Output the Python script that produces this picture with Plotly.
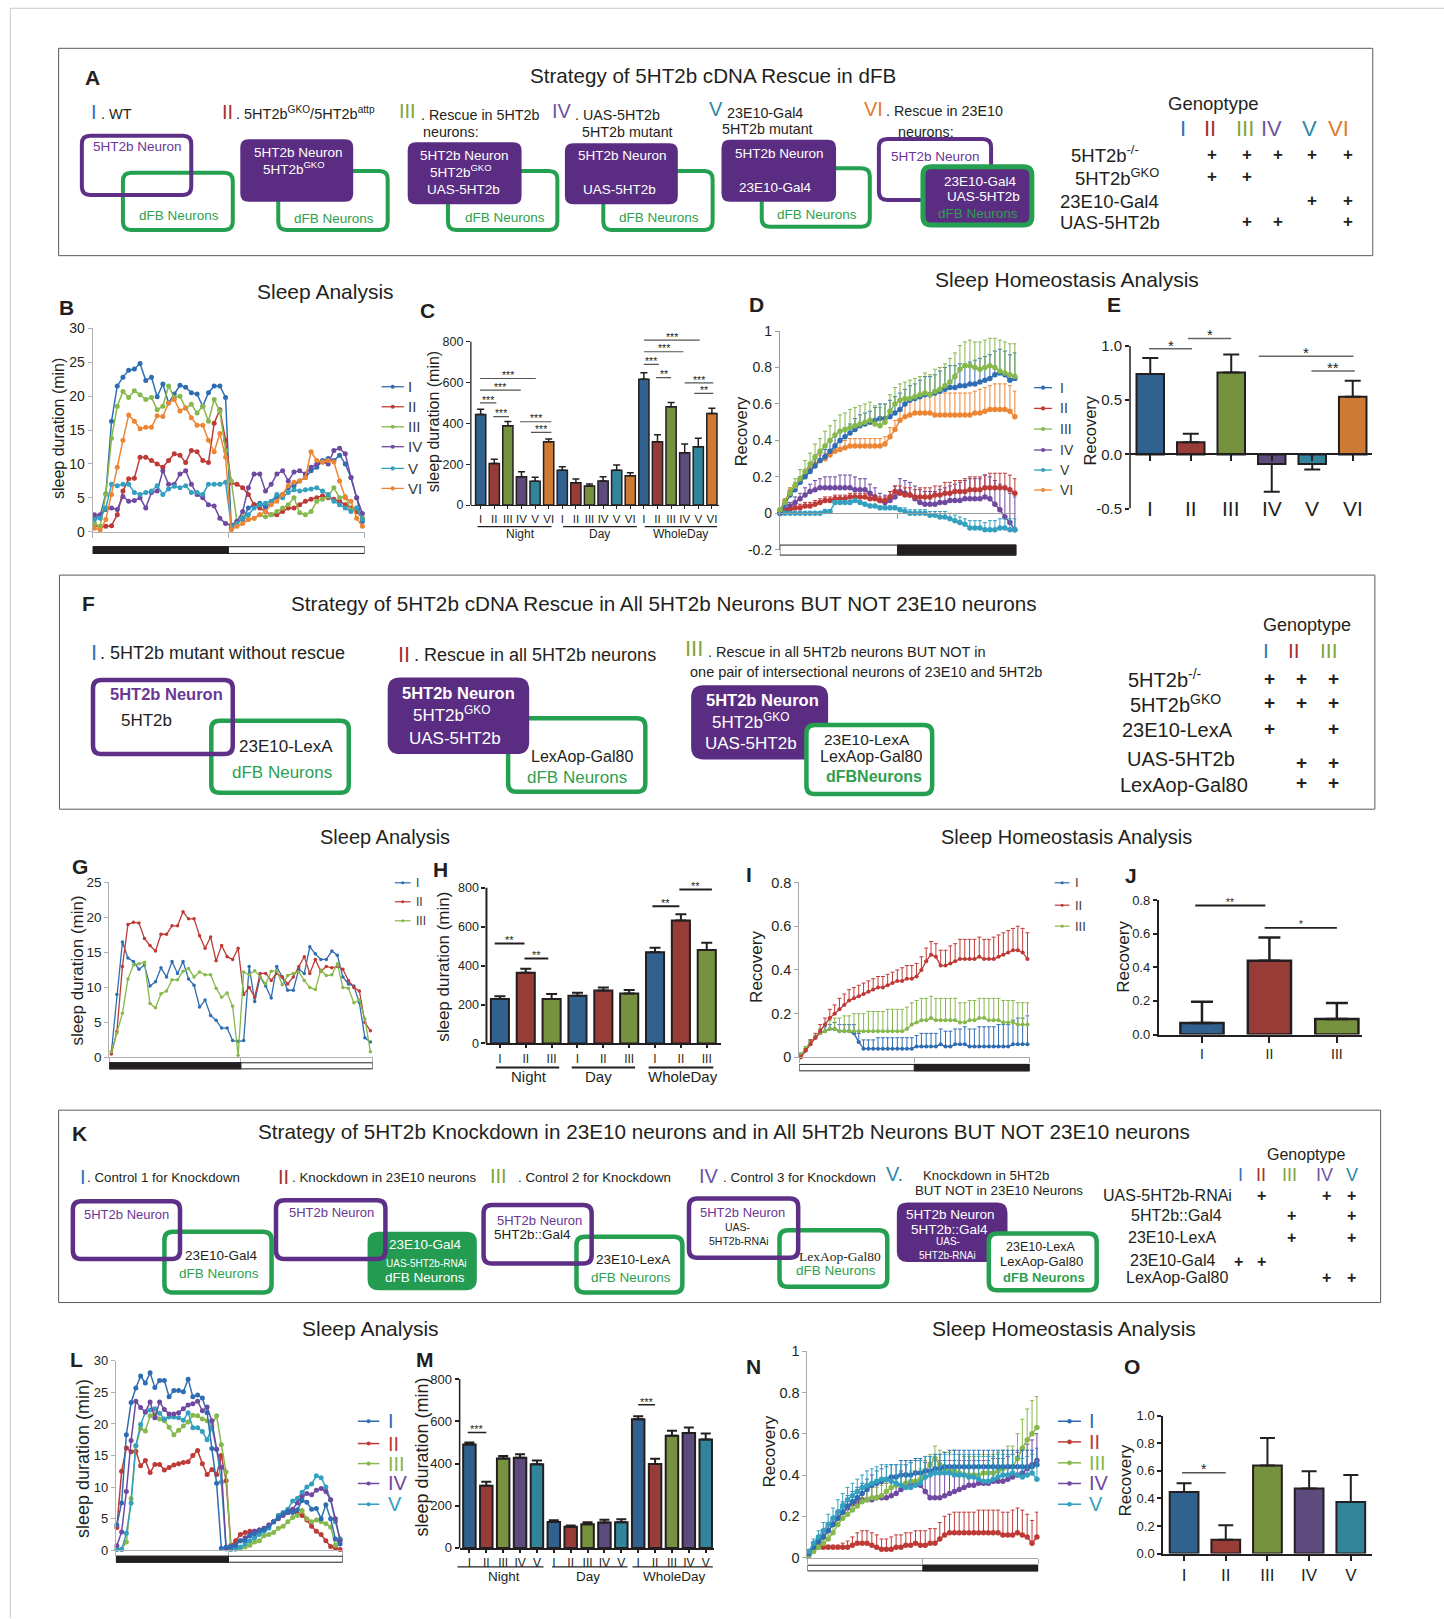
import plotly.graph_objects as go

# ======================= DATA =======================
ROMAN = ["I", "II", "III", "IV", "V", "VI"]
PERIODS = ["Night", "Day", "WholeDay"]

# ---- B : sleep profile (min / 30-min bin), 24 night bins then 24 day bins
B_I = [2.0, 2.4, 5.6, 16.3, 21.5, 22.8, 23.8, 24.0, 24.8, 22.3, 22.8, 19.9, 21.8, 19.0, 20.3, 21.6, 21.3, 20.5, 20.3, 18.5, 20.5, 21.5, 21.5, 19.8,
       0.5, 1.5, 1.8, 3.5, 4.0, 4.2, 3.6, 4.3, 5.2, 5.5, 6.5, 6.8, 7.5, 8.0, 9.0, 9.5, 10.5, 10.8, 10.5, 11.3, 10.0, 8.0, 5.0, 1.5]
B_II = [1.0, 0.7, 0.8, 0.9, 2.5, 6.0, 7.8, 7.9, 11.0, 11.0, 10.5, 10.0, 9.5, 10.5, 11.5, 11.3, 10.2, 12.0, 11.8, 10.5, 10.2, 16.0, 18.0, 13.5,
        7.2, 7.0, 6.5, 5.5, 4.0, 3.5, 3.0, 2.5, 2.5, 3.0, 3.5, 3.5, 4.0, 4.5, 4.8, 5.0, 5.3, 5.0, 4.8, 4.5, 4.0, 3.5, 3.0, 2.0]
B_III = [1.2, 0.8, 5.5, 13.8, 18.5, 20.7, 19.8, 20.8, 20.2, 19.5, 19.8, 18.0, 18.5, 21.5, 19.8, 20.0, 18.2, 18.8, 17.5, 18.5, 16.3, 19.5, 17.8, 12.0,
         7.5, 1.5, 2.2, 1.8, 2.0, 2.5, 2.2, 2.5, 3.0, 3.5, 4.0, 5.0, 2.8, 2.5, 3.0, 4.5, 4.8, 5.2, 6.5, 5.0, 5.2, 3.2, 3.5, 2.0]
B_IV = [2.5, 2.5, 3.3, 3.5, 3.3, 5.2, 4.5, 4.6, 5.0, 3.5, 5.8, 6.0, 9.0, 7.0, 7.0, 8.5, 9.0, 7.0, 5.5, 5.0, 4.0, 3.8, 2.0, 1.2,
        1.0, 1.5, 3.0, 6.5, 8.5, 8.5, 6.0, 7.0, 8.5, 9.0, 7.5, 8.8, 9.0, 8.5, 9.5, 10.0, 10.3, 10.0, 12.0, 12.3, 11.5, 8.0, 5.0, 2.7]
B_V = [1.8, 2.0, 3.5, 7.0, 6.8, 7.0, 7.0, 5.8, 5.5, 5.8, 6.0, 6.8, 5.5, 6.3, 6.7, 6.5, 6.8, 5.8, 5.8, 5.5, 7.0, 7.0, 7.0, 7.3,
       0.8, 1.2, 2.0, 2.5, 3.5, 4.0, 4.2, 4.5, 5.5, 5.0, 5.8, 6.2, 6.0, 6.2, 6.3, 6.5, 6.0, 5.5, 4.5, 4.0, 3.5, 3.0, 3.5, 1.8]
B_VI = [0.5, 0.3, 1.8, 5.5, 9.5, 13.5, 17.2, 16.3, 15.2, 15.4, 15.4, 17.1, 17.0, 19.0, 19.5, 17.8, 18.3, 16.8, 15.7, 15.7, 13.5, 11.8, 14.5, 11.0,
        0.3, 0.8, 1.2, 1.8, 2.0, 2.5, 3.0, 4.0, 4.5, 5.5, 6.8, 7.3, 7.5, 8.0, 11.8, 10.5, 10.3, 10.5, 10.3, 7.5, 5.0, 4.5, 2.0, 0.8]

# ---- C : total sleep (min)
C_NIGHT = [444, 204, 389, 139, 116, 310]
C_DAY = [171, 109, 93, 118, 171, 144]
C_WHOLE = [616, 310, 482, 256, 286, 449]
C_NIGHT_ERR = [25, 20, 20, 24, 20, 13]
C_DAY_ERR = [17, 18, 10, 21, 25, 14]
C_WHOLE_ERR = [32, 34, 21, 43, 41, 25]
C_SIG = [(-0.05, 4.05, 620, "***"), (-0.05, 2.95, 563, "***"), (-0.05, 1.15, 501, "***"), (0.92, 2.08, 433, "***"),
         (2.9, 5.2, 408, "***"), (3.7, 5.2, 356, "***"), (12, 16.1, 808, "***"), (12, 14.9, 751, "***"),
         (12, 13.1, 689, "***"), (12.9, 14, 624, "**"), (15, 17.1, 599, "***"), (15.7, 17.1, 547, "**")]

# ---- D : recovery curves
D_I = [0.00, 0.05, 0.10, 0.13, 0.17, 0.20, 0.23, 0.26, 0.29, 0.31, 0.34, 0.37, 0.40, 0.42, 0.44, 0.46, 0.48, 0.49, 0.50, 0.51,
       0.52, 0.52, 0.53, 0.55, 0.57, 0.60, 0.62, 0.63, 0.64, 0.65, 0.65, 0.66, 0.67, 0.68, 0.69, 0.69, 0.70, 0.70, 0.71, 0.71,
       0.72, 0.73, 0.74, 0.76, 0.77, 0.76, 0.73, 0.74]
D_II = [0.00, 0.01, 0.02, 0.03, 0.03, 0.04, 0.04, 0.05, 0.06, 0.07, 0.07, 0.08, 0.08, 0.08, 0.09, 0.09, 0.09, 0.09, 0.08, 0.08,
        0.07, 0.07, 0.09, 0.12, 0.11, 0.10, 0.10, 0.09, 0.09, 0.09, 0.09, 0.10, 0.10, 0.11, 0.11, 0.12, 0.12, 0.12, 0.13, 0.13,
        0.13, 0.14, 0.14, 0.14, 0.14, 0.14, 0.13, 0.11]
D_III = [0.02, 0.06, 0.11, 0.15, 0.19, 0.23, 0.27, 0.31, 0.34, 0.37, 0.40, 0.43, 0.45, 0.46, 0.47, 0.48, 0.49, 0.50, 0.51, 0.49,
         0.48, 0.50, 0.56, 0.60, 0.62, 0.63, 0.63, 0.64, 0.65, 0.66, 0.65, 0.67, 0.68, 0.70, 0.72, 0.75, 0.79, 0.81, 0.81, 0.80,
         0.79, 0.80, 0.81, 0.80, 0.78, 0.77, 0.76, 0.75]
D_IV = [0.00, 0.02, 0.04, 0.06, 0.08, 0.10, 0.12, 0.13, 0.14, 0.14, 0.14, 0.14, 0.14, 0.14, 0.14, 0.13, 0.13, 0.13, 0.11, 0.09,
        0.07, 0.06, 0.07, 0.09, 0.12, 0.11, 0.10, 0.08, 0.06, 0.05, 0.05, 0.05, 0.06, 0.06, 0.07, 0.07, 0.07, 0.08, 0.08, 0.08,
        0.08, 0.09, 0.08, 0.05, 0.02, -0.02, -0.05, -0.09]
D_V = [0.00, 0.00, 0.00, 0.00, 0.00, 0.00, 0.00, 0.00, 0.00, 0.01, 0.01, 0.06, 0.06, 0.06, 0.06, 0.07, 0.06, 0.05, 0.04, 0.04,
       0.03, 0.03, 0.03, 0.03, 0.02, 0.01, 0.00, 0.00, 0.00, 0.00, -0.01, -0.01, -0.02, -0.02, -0.03, -0.04, -0.05, -0.06, -0.08, -0.08,
       -0.08, -0.09, -0.09, -0.09, -0.08, -0.08, -0.09, -0.09]
D_VI = [0.02, 0.07, 0.12, 0.15, 0.18, 0.21, 0.24, 0.27, 0.29, 0.30, 0.32, 0.34, 0.35, 0.36, 0.37, 0.37, 0.37, 0.37, 0.37, 0.37,
        0.37, 0.38, 0.42, 0.46, 0.51, 0.53, 0.54, 0.55, 0.55, 0.55, 0.55, 0.54, 0.54, 0.54, 0.54, 0.54, 0.54, 0.54, 0.54, 0.55,
        0.55, 0.56, 0.57, 0.57, 0.57, 0.57, 0.56, 0.53]
D_I_ERR = [0.01, 0.02, 0.02, 0.03, 0.03, 0.03, 0.04, 0.04, 0.04, 0.04, 0.05, 0.05, 0.05, 0.05, 0.05, 0.06, 0.06, 0.06, 0.06, 0.07,
           0.08, 0.08, 0.09, 0.09, 0.09, 0.08, 0.08, 0.08, 0.09, 0.10, 0.10, 0.10, 0.11, 0.12, 0.12, 0.12, 0.12, 0.12, 0.12, 0.13,
           0.13, 0.13, 0.13, 0.13, 0.13, 0.13, 0.14, 0.14]
D_II_ERR = [0.01, 0.01, 0.01, 0.01, 0.02, 0.02, 0.02, 0.02, 0.02, 0.02, 0.02, 0.02, 0.02, 0.02, 0.02, 0.02, 0.02, 0.02, 0.02, 0.02,
            0.02, 0.02, 0.03, 0.03, 0.04, 0.04, 0.04, 0.04, 0.05, 0.05, 0.05, 0.05, 0.05, 0.06, 0.06, 0.06, 0.06, 0.07, 0.07, 0.07,
            0.07, 0.07, 0.08, 0.08, 0.08, 0.08, 0.08, 0.08]
D_III_ERR = [0.01, 0.02, 0.03, 0.04, 0.05, 0.06, 0.06, 0.07, 0.07, 0.08, 0.08, 0.08, 0.09, 0.09, 0.10, 0.10, 0.10, 0.10, 0.10, 0.10,
             0.10, 0.10, 0.09, 0.09, 0.09, 0.09, 0.10, 0.10, 0.10, 0.11, 0.11, 0.12, 0.12, 0.12, 0.13, 0.13, 0.13, 0.13, 0.14, 0.14,
             0.15, 0.15, 0.15, 0.16, 0.17, 0.17, 0.17, 0.18]
D_IV_ERR = [0.01, 0.01, 0.02, 0.03, 0.03, 0.04, 0.04, 0.05, 0.05, 0.06, 0.06, 0.06, 0.07, 0.07, 0.07, 0.07, 0.06, 0.06, 0.05, 0.05,
            0.04, 0.04, 0.05, 0.06, 0.07, 0.07, 0.07, 0.07, 0.07, 0.07, 0.07, 0.07, 0.07, 0.08, 0.08, 0.09, 0.10, 0.10, 0.11, 0.11,
            0.11, 0.12, 0.12, 0.13, 0.14, 0.15, 0.16, 0.18]
D_V_ERR = [0.00, 0.00, 0.00, 0.00, 0.00, 0.00, 0.01, 0.01, 0.01, 0.01, 0.01, 0.01, 0.01, 0.01, 0.01, 0.01, 0.01, 0.01, 0.01, 0.01,
           0.01, 0.01, 0.01, 0.01, 0.01, 0.02, 0.02, 0.02, 0.02, 0.02, 0.02, 0.02, 0.03, 0.03, 0.03, 0.03, 0.03, 0.03, 0.04, 0.04,
           0.04, 0.04, 0.05, 0.05, 0.05, 0.05, 0.06, 0.06]
D_VI_ERR = [0.01, 0.01, 0.02, 0.02, 0.02, 0.03, 0.03, 0.03, 0.03, 0.03, 0.03, 0.04, 0.04, 0.04, 0.04, 0.04, 0.04, 0.04, 0.04, 0.04,
            0.04, 0.04, 0.05, 0.05, 0.06, 0.07, 0.08, 0.09, 0.10, 0.10, 0.11, 0.11, 0.12, 0.12, 0.12, 0.12, 0.12, 0.12, 0.12, 0.12,
            0.13, 0.13, 0.13, 0.14, 0.14, 0.14, 0.14, 0.14]

# ---- E : recovery
E_MEAN = [0.742, 0.111, 0.757, -0.089, -0.089, 0.532]
E_ERR = [0.147, 0.08, 0.166, 0.256, 0.05, 0.148]
E_SIG = [(-0.03, 1.03, 0.975, "*"), (0.93, 2.0, 1.07, "*"), (2.68, 5.02, 0.906, "*"), (3.98, 5.05, 0.77, "**")]

# ---- G : sleep profile
G_I = [0.8, 9.0, 16.5, 14.2, 13.7, 12.6, 13.2, 10.2, 10.8, 12.8, 11.5, 13.7, 12.0, 13.7, 11.2, 10.3, 7.2, 8.2, 6.0, 5.3, 4.2, 4.2, 2.4, 2.3,
       2.4, 13.0, 8.0, 11.5, 10.2, 8.5, 13.0, 11.5, 9.6, 9.6, 12.6, 12.0, 15.8, 14.8, 14.0, 14.0, 15.2, 14.6, 11.5, 10.5, 10.2, 7.8, 2.8, 2.2]
G_II = [0.5, 3.7, 13.0, 19.0, 19.3, 19.2, 17.0, 16.0, 15.2, 17.6, 17.6, 18.8, 18.8, 20.8, 19.8, 19.8, 17.4, 15.6, 17.2, 13.8, 16.0, 14.4, 14.0, 15.6,
        9.0, 10.0, 8.6, 12.0, 12.0, 11.0, 12.0, 11.5, 10.5, 11.5, 13.0, 14.4, 12.0, 14.0, 12.3, 13.0, 12.8, 13.0, 12.6, 11.0, 10.0, 9.5, 5.0, 3.8]
G_III = [0.8, 3.5, 6.3, 11.2, 13.2, 13.4, 13.6, 7.7, 7.1, 9.1, 9.5, 11.1, 11.1, 12.3, 12.7, 11.5, 12.2, 11.8, 11.8, 9.9, 8.6, 9.2, 7.3, 0.3,
         12.2, 11.8, 12.4, 11.5, 10.5, 12.3, 12.4, 10.4, 11.7, 12.0, 12.2, 11.0, 10.0, 9.7, 12.5, 11.7, 11.8, 13.4, 10.0, 9.9, 7.8, 8.2, 5.5, 0.8]

# ---- H : total sleep (min)
H_NIGHT = [228, 363, 228]
H_DAY = [245, 272, 257]
H_WHOLE = [468, 632, 480]
H_NIGHT_ERR = [15, 21, 26]
H_DAY_ERR = [15, 16, 17]
H_WHOLE_ERR = [24, 31, 37]
H_SIG = [(-0.2, 0.95, 514, "**"), (0.95, 1.87, 437, "**"), (5.9, 6.94, 705, "**"), (6.94, 8.2, 791, "**")]

# ---- I : recovery curves
I_I = [0.01, 0.04, 0.07, 0.09, 0.11, 0.12, 0.13, 0.13, 0.12, 0.12, 0.12, 0.11, 0.07, 0.04, 0.04, 0.04, 0.04, 0.04, 0.04, 0.04,
       0.04, 0.04, 0.04, 0.04, 0.05, 0.05, 0.05, 0.05, 0.05, 0.06, 0.05, 0.05, 0.06, 0.06, 0.06, 0.05, 0.05, 0.05, 0.05, 0.05,
       0.05, 0.05, 0.05, 0.05, 0.06, 0.06, 0.06, 0.06]
I_II = [0.00, 0.03, 0.06, 0.09, 0.12, 0.15, 0.18, 0.20, 0.22, 0.24, 0.26, 0.27, 0.28, 0.29, 0.30, 0.31, 0.32, 0.32, 0.33, 0.34,
        0.35, 0.35, 0.36, 0.36, 0.37, 0.40, 0.44, 0.47, 0.46, 0.42, 0.42, 0.43, 0.44, 0.45, 0.45, 0.45, 0.45, 0.46, 0.45, 0.45,
        0.45, 0.46, 0.47, 0.48, 0.49, 0.49, 0.48, 0.45]
I_III = [0.01, 0.04, 0.07, 0.09, 0.11, 0.12, 0.13, 0.13, 0.12, 0.12, 0.12, 0.12, 0.12, 0.12, 0.12, 0.12, 0.12, 0.12, 0.12, 0.12,
         0.12, 0.12, 0.13, 0.15, 0.16, 0.17, 0.17, 0.18, 0.17, 0.17, 0.17, 0.17, 0.17, 0.16, 0.16, 0.17, 0.17, 0.18, 0.18, 0.17,
         0.17, 0.17, 0.16, 0.16, 0.16, 0.15, 0.15, 0.15]
I_I_ERR = [0.01, 0.01, 0.01, 0.01, 0.02, 0.02, 0.02, 0.03, 0.03, 0.03, 0.03, 0.04, 0.04, 0.04, 0.04, 0.04, 0.05, 0.05, 0.05, 0.05,
           0.05, 0.05, 0.05, 0.05, 0.05, 0.06, 0.06, 0.06, 0.06, 0.07, 0.07, 0.07, 0.07, 0.07, 0.08, 0.08, 0.08, 0.09, 0.09, 0.09,
           0.09, 0.10, 0.10, 0.10, 0.11, 0.12, 0.12, 0.13]
I_II_ERR = [0.01, 0.01, 0.02, 0.02, 0.03, 0.03, 0.04, 0.04, 0.05, 0.05, 0.05, 0.05, 0.05, 0.05, 0.05, 0.05, 0.05, 0.05, 0.05, 0.05,
            0.05, 0.06, 0.06, 0.06, 0.06, 0.06, 0.06, 0.06, 0.06, 0.07, 0.07, 0.08, 0.08, 0.09, 0.09, 0.09, 0.09, 0.09, 0.09, 0.09,
            0.10, 0.10, 0.10, 0.10, 0.10, 0.11, 0.11, 0.12]
I_III_ERR = [0.01, 0.01, 0.01, 0.01, 0.02, 0.03, 0.04, 0.05, 0.06, 0.07, 0.07, 0.08, 0.08, 0.08, 0.09, 0.09, 0.09, 0.09, 0.10, 0.10,
             0.10, 0.10, 0.10, 0.10, 0.10, 0.10, 0.10, 0.10, 0.10, 0.10, 0.10, 0.10, 0.10, 0.09, 0.09, 0.09, 0.09, 0.09, 0.09, 0.10,
             0.10, 0.10, 0.10, 0.10, 0.10, 0.10, 0.10, 0.10]

# ---- J : recovery
J_MEAN = [0.069, 0.439, 0.093]
J_ERR = [0.126, 0.139, 0.094]
J_SIG = [(-0.1, 0.94, 0.768, "**"), (0.93, 2.0, 0.635, "*")]

# ---- L : sleep profile
L_I = [4.0, 7.5, 18.3, 23.4, 25.7, 27.6, 26.5, 28.1, 25.8, 26.9, 26.9, 24.3, 25.3, 25.3, 25.1, 27.1, 24.3, 24.6, 24.1, 21.8, 16.1, 10.6, 0.3, 0.5,
       0.6, 0.8, 1.5, 1.6, 2.3, 2.6, 3.1, 3.3, 3.8, 4.5, 5.2, 5.8, 6.2, 6.0, 6.4, 7.9, 7.6, 6.5, 6.6, 5.0, 7.2, 5.0, 1.8, 1.0]
L_II = [3.6, 12.5, 16.2, 15.6, 15.7, 13.4, 14.2, 12.3, 13.6, 13.6, 12.7, 13.1, 13.5, 13.7, 13.9, 14.0, 15.0, 15.8, 13.7, 12.0, 12.8, 12.0, 15.0, 11.0,
        0.8, 1.5, 2.5, 2.8, 3.0, 3.0, 3.2, 3.5, 4.0, 4.5, 5.5, 5.8, 6.0, 6.2, 5.8, 5.5, 4.8, 3.8, 3.0, 2.5, 1.5, 0.6, 0.4, 0.1]
L_III = [0.2, 0.2, 1.3, 8.2, 16.5, 19.3, 18.9, 21.3, 21.6, 20.8, 20.5, 19.5, 18.3, 19.0, 19.7, 20.3, 21.4, 21.3, 20.8, 20.5, 19.9, 21.3, 16.7, 12.4,
         0.3, 0.2, 0.3, 0.5, 0.8, 1.3, 1.5, 2.3, 2.5, 2.8, 3.5, 3.8, 4.5, 5.2, 5.5, 6.3, 5.0, 4.5, 4.8, 4.5, 4.2, 3.7, 0.8, 1.8]
L_IV = [0.7, 2.9, 9.3, 17.4, 23.6, 22.6, 21.9, 23.5, 21.0, 23.5, 22.3, 21.6, 21.6, 21.8, 22.4, 23.0, 23.2, 23.6, 22.1, 22.7, 20.5, 16.0, 13.1, 0.3,
        0.5, 0.8, 1.5, 2.0, 2.5, 3.0, 3.2, 3.5, 4.0, 4.5, 5.0, 5.5, 6.0, 6.5, 7.5, 8.5, 9.0, 8.8, 9.5, 9.8, 9.3, 8.0, 5.0, 1.5]
L_V = [0.1, 0.1, 2.7, 7.5, 16.6, 19.9, 21.9, 22.2, 22.4, 21.7, 20.8, 21.1, 21.1, 21.0, 20.6, 21.8, 19.4, 19.4, 18.8, 17.5, 19.4, 16.0, 10.8, 0.2,
       0.1, 0.2, 0.5, 1.0, 1.5, 2.0, 2.5, 3.0, 3.5, 4.5, 5.5, 6.0, 6.5, 7.8, 8.2, 9.2, 10.0, 10.5, 11.8, 11.5, 10.0, 8.0, 4.5, 1.8]

# ---- M : total sleep (min)
M_NIGHT = [490, 294, 424, 427, 397]
M_DAY = [123, 100, 112, 120, 122]
M_WHOLE = [610, 398, 531, 544, 514]
M_NIGHT_ERR = [10, 19, 12, 17, 17]
M_DAY_ERR = [8, 6, 10, 13, 14]
M_WHOLE_ERR = [14, 24, 24, 27, 28]
M_SIG = [(-0.1, 1.0, 547, "***"), (10, 11, 678, "***")]

# ---- N : recovery curves
N_I = [0.02, 0.05, 0.08, 0.10, 0.13, 0.16, 0.19, 0.22, 0.25, 0.27, 0.29, 0.31, 0.33, 0.35, 0.36, 0.37, 0.38, 0.39, 0.39, 0.40,
       0.40, 0.40, 0.41, 0.41, 0.42, 0.42, 0.43, 0.43, 0.44, 0.44, 0.44, 0.44, 0.44, 0.44, 0.44, 0.44, 0.44, 0.44, 0.44, 0.44,
       0.44, 0.44, 0.44, 0.44, 0.44, 0.44, 0.44, 0.45]
N_II = [0.02, 0.04, 0.05, 0.05, 0.05, 0.05, 0.05, 0.05, 0.05, 0.06, 0.07, 0.07, 0.07, 0.06, 0.05, 0.04, 0.04, 0.04, 0.05, 0.05,
        0.06, 0.06, 0.07, 0.06, 0.06, 0.07, 0.07, 0.09, 0.11, 0.12, 0.12, 0.12, 0.12, 0.12, 0.12, 0.12, 0.12, 0.12, 0.12, 0.12,
        0.11, 0.11, 0.11, 0.12, 0.11, 0.10, 0.07, 0.10]
N_III = [0.01, 0.03, 0.05, 0.07, 0.09, 0.12, 0.16, 0.19, 0.21, 0.23, 0.25, 0.27, 0.28, 0.29, 0.29, 0.30, 0.32, 0.34, 0.35, 0.35,
         0.36, 0.37, 0.37, 0.38, 0.42, 0.45, 0.48, 0.45, 0.43, 0.42, 0.42, 0.41, 0.40, 0.40, 0.40, 0.40, 0.41, 0.41, 0.41, 0.42,
         0.43, 0.44, 0.44, 0.48, 0.53, 0.57, 0.60, 0.63]
N_IV = [0.01, 0.04, 0.07, 0.10, 0.13, 0.16, 0.19, 0.22, 0.24, 0.26, 0.27, 0.28, 0.28, 0.28, 0.29, 0.29, 0.29, 0.30, 0.31, 0.33,
        0.35, 0.36, 0.36, 0.35, 0.32, 0.29, 0.29, 0.29, 0.30, 0.31, 0.32, 0.33, 0.34, 0.35, 0.35, 0.36, 0.36, 0.36, 0.37, 0.37,
        0.37, 0.38, 0.39, 0.40, 0.41, 0.43, 0.45, 0.47]
N_V = [0.03, 0.07, 0.10, 0.13, 0.16, 0.19, 0.22, 0.25, 0.28, 0.30, 0.32, 0.34, 0.35, 0.36, 0.37, 0.38, 0.38, 0.37, 0.36, 0.35,
       0.34, 0.34, 0.35, 0.36, 0.39, 0.40, 0.41, 0.41, 0.41, 0.41, 0.40, 0.40, 0.40, 0.39, 0.39, 0.38, 0.37, 0.37, 0.38, 0.39,
       0.40, 0.40, 0.41, 0.40, 0.39, 0.40, 0.41, 0.38]
N_I_ERR = [0.01, 0.02, 0.02, 0.03, 0.03, 0.04, 0.04, 0.05, 0.05, 0.05, 0.05, 0.05, 0.05, 0.05, 0.06, 0.06, 0.06, 0.06, 0.06, 0.07,
           0.07, 0.07, 0.07, 0.07, 0.07, 0.07, 0.07, 0.07, 0.07, 0.08, 0.08, 0.08, 0.08, 0.08, 0.08, 0.08, 0.08, 0.08, 0.08, 0.08,
           0.08, 0.08, 0.08, 0.08, 0.08, 0.08, 0.08, 0.08]
N_II_ERR = [0.01, 0.01, 0.01, 0.01, 0.01, 0.01, 0.01, 0.02, 0.03, 0.04, 0.05, 0.06, 0.06, 0.06, 0.06, 0.05, 0.05, 0.06, 0.06, 0.06,
            0.06, 0.06, 0.06, 0.07, 0.07, 0.07, 0.07, 0.08, 0.09, 0.09, 0.10, 0.10, 0.10, 0.10, 0.10, 0.11, 0.11, 0.11, 0.11, 0.11,
            0.11, 0.11, 0.12, 0.12, 0.12, 0.11, 0.11, 0.12]
N_III_ERR = [0.01, 0.01, 0.01, 0.02, 0.02, 0.03, 0.03, 0.03, 0.04, 0.04, 0.04, 0.04, 0.05, 0.05, 0.05, 0.05, 0.05, 0.05, 0.05, 0.05,
             0.05, 0.05, 0.05, 0.05, 0.05, 0.05, 0.06, 0.07, 0.08, 0.09, 0.10, 0.09, 0.09, 0.09, 0.09, 0.09, 0.09, 0.09, 0.09, 0.09,
             0.09, 0.10, 0.10, 0.12, 0.14, 0.15, 0.16, 0.15]
N_IV_ERR = [0.01, 0.01, 0.02, 0.02, 0.03, 0.03, 0.03, 0.04, 0.04, 0.04, 0.05, 0.06, 0.06, 0.07, 0.07, 0.07, 0.07, 0.08, 0.08, 0.09,
            0.10, 0.10, 0.11, 0.12, 0.14, 0.17, 0.18, 0.18, 0.17, 0.16, 0.15, 0.14, 0.13, 0.12, 0.12, 0.11, 0.11, 0.11, 0.11, 0.11,
            0.11, 0.11, 0.11, 0.11, 0.12, 0.12, 0.12, 0.13]
N_V_ERR = [0.01, 0.02, 0.03, 0.04, 0.05, 0.05, 0.06, 0.06, 0.06, 0.06, 0.06, 0.06, 0.07, 0.07, 0.07, 0.07, 0.07, 0.08, 0.09, 0.10,
           0.11, 0.12, 0.12, 0.11, 0.10, 0.09, 0.09, 0.09, 0.09, 0.09, 0.10, 0.10, 0.10, 0.11, 0.11, 0.12, 0.12, 0.12, 0.11, 0.11,
           0.10, 0.10, 0.09, 0.09, 0.09, 0.09, 0.09, 0.09]

# ---- O : recovery
O_MEAN = [0.447, 0.101, 0.638, 0.471, 0.374]
O_ERR = [0.063, 0.104, 0.2, 0.126, 0.196]
O_SIG = [(-0.05, 1.0, 0.585, "*")]

# ---- genotype tables
A_GENO_LABELS = ["5HT2b<sup>-/-</sup>", "5HT2b<sup>GKO</sup>", "23E10-Gal4", "UAS-5HT2b"]
A_GENO = [[0, 1, 1, 1, 1, 1], [0, 1, 1, 0, 0, 0], [0, 0, 0, 0, 1, 1], [0, 0, 1, 1, 0, 1]]
F_GENO_LABELS = ["5HT2b<sup>-/-</sup>", "5HT2b<sup>GKO</sup>", "23E10-LexA", "UAS-5HT2b", "LexAop-Gal80"]
F_GENO = [[1, 1, 1], [1, 1, 1], [1, 0, 1], [0, 1, 1], [0, 1, 1]]
K_GENO_LABELS = ["UAS-5HT2b-RNAi", "5HT2b::Gal4", "23E10-LexA", "23E10-Gal4", "LexAop-Gal80"]
K_GENO = [[0, 1, 0, 1, 1], [0, 0, 1, 0, 1], [0, 0, 1, 0, 1], [1, 1, 0, 0, 0], [0, 0, 0, 1, 1]]

# ======================= STYLE =======================
SW, SH = 1399.0, 1568.6
FONT = "Liberation Sans, Arial, Helvetica, sans-serif"
SERIF = "Liberation Serif, Times New Roman, serif"
DARK = "#231F20"
LINE = {"I": "#2F6DB3", "II": "#BE3A36", "III": "#86B84B", "IV": "#6F48A0", "V": "#34A0BF", "VI": "#EC8634"}
BAR = {"I": "#31628F", "II": "#973C37", "III": "#77923F", "IV": "#5E4B7E", "V": "#32849A", "VI": "#CD7A34"}
NUM = {"I": "#2F72B8", "II": "#A8302E", "III": "#7FA43D", "IV": "#6E55A2", "V": "#2B89A8", "VI": "#E07C2C"}
PURP_FILL = "#5B2D82"
PURP_LINE = "#5E2F86"
PURP_TXT = "#6A3696"
GRN_LINE = "#25A050"
GRN_TXT = "#2E9F4F"
GRN_FILL = "#239B50"


def PX(x):
    return x / SW


def PY(y):
    return 1.0 - y / SH


def xn(n):
    return "x" if n == 1 else "x%d" % n


def yn(n):
    return "y" if n == 1 else "y%d" % n


def xk(n):
    return "xaxis" if n == 1 else "xaxis%d" % n


def yk(n):
    return "yaxis" if n == 1 else "yaxis%d" % n


fig = go.Figure()
shapes, annos = [], []
layout = dict(width=1444, height=1619, autosize=False,
              margin=dict(l=0, r=0, t=0, b=0, pad=0, autoexpand=False), paper_bgcolor="white",
              plot_bgcolor="rgba(0,0,0,0)", showlegend=False, font=dict(family=FONT, color=DARK))


def text(x, y, s, size, color=DARK, anchor="center", bold=False, family=FONT, angle=0):
    annos.append(dict(x=PX(x), y=PY(y), xref="paper", yref="paper", text=s, showarrow=False,
                      xanchor=anchor, yanchor="middle", textangle=angle,
                      font=dict(size=size, color=color, family=family, weight=("bold" if bold else "normal"))))


def pline(x0, y0, x1, y1, color, width):
    shapes.append(dict(type="line", xref="paper", yref="paper", x0=PX(x0), y0=PY(y0), x1=PX(x1), y1=PY(y1),
                       line=dict(color=color, width=width)))


def prect(x0, y0, x1, y1, color, width, fill="rgba(0,0,0,0)"):
    shapes.append(dict(type="rect", xref="paper", yref="paper", x0=PX(x0), y0=PY(y1), x1=PX(x1), y1=PY(y0),
                       line=dict(color=color, width=width), fillcolor=fill))


def pdot(x, y, d, color):
    shapes.append(dict(type="circle", xref="paper", yref="paper", x0=PX(x - d / 2), x1=PX(x + d / 2),
                       y0=PY(y + d / 2), y1=PY(y - d / 2), fillcolor=color, line=dict(width=0)))


def rbox(x0, y0, x1, y1, color, width, fill="rgba(0,0,0,0)", r=8):
    rx, ry = r / SW, r / SH
    X0, X1, Ya, Yb = PX(x0), PX(x1), PY(y0), PY(y1)
    path = ("M%f,%f L%f,%f Q%f,%f %f,%f L%f,%f Q%f,%f %f,%f L%f,%f Q%f,%f %f,%f L%f,%f Q%f,%f %f,%f Z" % (
        X0 + rx, Ya, X1 - rx, Ya, X1, Ya, X1, Ya - ry, X1, Yb + ry, X1, Yb, X1 - rx, Yb,
        X0 + rx, Yb, X0, Yb, X0, Yb + ry, X0, Ya - ry, X0, Ya, X0 + rx, Ya))
    ln = dict(color=color, width=width) if width > 0 else dict(width=0)
    shapes.append(dict(type="path", xref="paper", yref="paper", path=path, line=ln, fillcolor=fill))


def add_axes(n, x0, x1, ytop, ybot, xr, yr, xcfg, ycfg):
    xa = dict(domain=[PX(x0), PX(x1)], range=xr, anchor=yn(n), showgrid=False, zeroline=False, fixedrange=True,
              automargin=False)
    xa.update(xcfg)
    ya = dict(domain=[PY(ybot), PY(ytop)], range=yr, anchor=xn(n), showgrid=False, zeroline=False, fixedrange=True,
              automargin=False)
    ya.update(ycfg)
    layout[xk(n)] = xa
    layout[yk(n)] = ya


def ycfg(vals, texts, size, color, lw, showline=True, ticklen=4):
    return dict(tickvals=vals, ticktext=texts, tickfont=dict(size=size, color=DARK, family=FONT), ticks="outside",
                ticklen=ticklen, tickwidth=lw, tickcolor=color, showline=showline, linecolor=color, linewidth=lw)


def xcfg_line(xr, mid, color, lw=1):
    return dict(tickvals=[xr[0], mid, xr[1]], showticklabels=False, ticks="outside", ticklen=5, tickwidth=lw,
                tickcolor=color, showline=True, linecolor=color, linewidth=lw)


def xcfg_bar(vals, texts, size, color, lw, ticklen=4):
    return dict(tickvals=vals, ticktext=texts, tickfont=dict(size=size, color=DARK, family=FONT), ticks="outside",
                ticklen=ticklen, tickwidth=lw, tickcolor=color, showline=True, linecolor=color, linewidth=lw)


def yline(n, y0, y1, color, width):
    shapes.append(dict(type="line", xref=xn(n) + " domain", yref=yn(n), x0=0, x1=0, y0=y0, y1=y1,
                       line=dict(color=color, width=width)))


def ldbar(n, xr, mid, ytop, ybot, dark_first):
    shapes.append(dict(type="rect", xref=xn(n), yref="paper", x0=xr[0], x1=xr[1], y0=PY(ybot), y1=PY(ytop),
                       fillcolor="white", line=dict(color=DARK, width=1)))
    a, b = (xr[0], mid) if dark_first else (mid, xr[1])
    shapes.append(dict(type="rect", xref=xn(n), yref="paper", x0=a, x1=b, y0=PY(ybot), y1=PY(ytop),
                       fillcolor=DARK, line=dict(color=DARK, width=1)))


def lines(n, series, msize, lw, errs=None, ecap=2):
    for name, ys in series:
        tr = go.Scatter(x=list(range(len(ys))), y=ys, mode="lines+markers", xaxis=xn(n), yaxis=yn(n),
                        line=dict(color=LINE[name], width=lw), marker=dict(color=LINE[name], size=msize),
                        cliponaxis=False, showlegend=False, hoverinfo="skip")
        if errs is not None:
            tr.error_y = dict(type="data", array=errs[name], arrayminus=[0] * len(ys), symmetric=False,
                              color=LINE[name], thickness=1, width=ecap)
        fig.add_trace(tr)


def grouped_bars(n, groups, period_means, period_errs, width, lw, ecap):
    ng = len(groups)
    for g, name in enumerate(groups):
        xs = [p * ng + g for p in range(len(period_means))]
        ys = [period_means[p][g] for p in range(len(period_means))]
        es = [period_errs[p][g] for p in range(len(period_means))]
        fig.add_trace(go.Bar(x=xs, y=ys, width=width, xaxis=xn(n), yaxis=yn(n),
                             marker=dict(color=BAR[name], line=dict(color=DARK, width=lw)),
                             error_y=dict(type="data", array=es, arrayminus=[0] * len(es), symmetric=False,
                                          color=DARK, thickness=lw, width=ecap),
                             showlegend=False, hoverinfo="skip"))


def single_bars(n, groups, means, errs, width, lw, ecap):
    for g, name in enumerate(groups):
        m, e = means[g], errs[g]
        up, dn = (e, 0) if m >= 0 else (0, e)
        fig.add_trace(go.Bar(x=[g], y=[m], width=width, xaxis=xn(n), yaxis=yn(n),
                             marker=dict(color=BAR[name], line=dict(color=DARK, width=lw)),
                             error_y=dict(type="data", array=[up], arrayminus=[dn], symmetric=False,
                                          color=DARK, thickness=lw, width=ecap),
                             showlegend=False, hoverinfo="skip"))


def sig(n, items, color, lw, size):
    for x0, x1, y, lab in items:
        shapes.append(dict(type="line", xref=xn(n), yref=yn(n), x0=x0, x1=x1, y0=y, y1=y,
                           line=dict(color=color, width=lw)))
        annos.append(dict(x=(x0 + x1) / 2.0, y=y, xref=xn(n), yref=yn(n), text=lab, showarrow=False,
                          yanchor="bottom", yshift=-0.45 * size, font=dict(size=size, color=DARK, family=FONT)))


def legend(names, x0, x1, xl, ys, size, dot, lw, colored=False):
    for name, y in zip(names, ys):
        pline(x0, y, x1, y, LINE[name], lw)
        pdot((x0 + x1) / 2.0, y, dot, LINE[name])
        text(xl, y, name, size, color=(LINE[name] if colored else "#3a3a3a"), anchor="left")


def groups_under(items, yline_, ylab, size, lw=1.3):
    for x0, x1, xl, lab in items:
        pline(x0, yline_, x1, yline_, DARK, lw)
        text(xl, ylab, lab, size)


def geno(labels, marks, lab_x, lab_y, col_x, plus_y, size, psize):
    for i, lab in enumerate(labels):
        text(lab_x[i], lab_y[i], lab, size)
        for j, m in enumerate(marks[i]):
            if m:
                text(col_x[j], plus_y[i], "+", psize, bold=True)


# ======================= FRAMES =======================
pline(10, 8, 1399, 8, "#c8c8c8", 1)
pline(10, 8, 10, 1568, "#c8c8c8", 1)
prect(56.8, 46.8, 1330, 247.7, "#5a5a5a", 1)
prect(57.6, 557.2, 1332, 784, "#5a5a5a", 1)
prect(56.8, 1075.6, 1337.6, 1262, "#5a5a5a", 1)

# ======================= PANEL A =======================
text(90.1, 74.9, "A", 21, bold=True)
text(690.5, 72.7, "Strategy of 5HT2b cDNA Rescue in dFB", 20.6)
text(91.4, 108.2, "I", 20, NUM["I"]); text(95.5, 110, ". WT", 14.5, anchor="left")
text(220.5, 108.5, "II", 20, NUM["II"]); text(226.4, 109.5, ". 5HT2b<sup>GKO</sup>/5HT2b<sup>attp</sup>", 14.5, anchor="left")
text(395, 108, "III", 20, NUM["III"]); text(405.8, 111.4, ". Rescue in 5HT2b", 14.3, anchor="left")
text(437, 127.6, "neurons:", 14.3)
text(544.6, 108, "IV", 20, NUM["IV"]); text(555, 111.4, ". UAS-5HT2b", 14.3, anchor="left")
text(607.8, 128.3, "5HT2b mutant", 14.3)
text(694, 106, "V", 20, NUM["V"]); text(702, 109, "23E10-Gal4", 14.3, anchor="left")
text(744, 125, "5HT2b mutant", 14.3)
text(846, 106, "VI", 20, NUM["VI"]); text(856.2, 107.5, ". Rescue in 23E10", 14.3, anchor="left")
text(897, 128.2, "neurons:", 14.3)

# diagrams A
rbox(119.1, 167.3, 225.5, 222.9, GRN_LINE, 4)
rbox(79.3, 131.5, 185.3, 189, PURP_LINE, 4)
text(133.3, 142.1, "5HT2b Neuron", 13.5, PURP_TXT); text(173.5, 209, "dFB Neurons", 13.5, GRN_TXT)

rbox(269.6, 165.7, 375.6, 222.9, GRN_LINE, 4)
rbox(232.8, 135, 342.2, 195.4, PURP_FILL, 0, PURP_FILL)
text(289, 147.6, "5HT2b Neuron", 13.5, "white"); text(284.7, 163, "5HT2b<sup>GKO</sup>", 13.5, "white")
text(323.6, 211.6, "dFB Neurons", 13.5, GRN_TXT)

rbox(434, 165.7, 540, 222.9, GRN_LINE, 4)
rbox(395, 137.9, 505.3, 198, PURP_FILL, 0, PURP_FILL)
text(450.4, 150.2, "5HT2b Neuron", 13.5, "white"); text(446.9, 166, "5HT2b<sup>GKO</sup>", 13.5, "white")
text(449.2, 183.5, "UAS-5HT2b", 13.5, "white"); text(489.3, 210.9, "dFB Neurons", 13.5, GRN_TXT)

rbox(584.5, 165.7, 690.4, 222.9, GRN_LINE, 4)
rbox(547.3, 138.9, 656.7, 198, PURP_FILL, 0, PURP_FILL)
text(602.7, 150.2, "5HT2b Neuron", 13.5, "white"); text(600.5, 183.5, "UAS-5HT2b", 13.5, "white")
text(638.1, 210.9, "dFB Neurons", 13.5, GRN_TXT)

rbox(738, 163, 842.7, 219.6, GRN_LINE, 4)
rbox(699, 135.5, 810, 195.4, PURP_FILL, 0, PURP_FILL)
text(755, 148.6, "5HT2b Neuron", 13.5, "white"); text(751, 181.8, "23E10-Gal4", 13.5, "white")
text(791.4, 208.3, "dFB Neurons", 13.5, GRN_TXT)

rbox(851.5, 134.7, 960.2, 193.8, PURP_LINE, 4)
rbox(894.2, 161.5, 999.7, 218, GRN_LINE, 5, PURP_FILL)
text(906.8, 151.2, "5HT2b Neuron", 13.5, PURP_TXT)
text(950.3, 176, "23E10-Gal4", 13.5, "white"); text(953.1, 190.6, "UAS-5HT2b", 13.5, "white")
text(947.6, 206.7, "dFB Neurons", 13.5, GRN_TXT)

# genotype A
text(1175.7, 100.1, "Genoptype", 18.5)
for name, x in zip(ROMAN, [1146, 1172.5, 1206.1, 1232, 1268.6, 1297]):
    text(x, 124.3, name, 22, NUM[name])
geno(A_GENO_LABELS, A_GENO, [1070.8, 1081.8, 1074.8, 1075.8], [149, 171.5, 194.8, 215.8],
     [1146, 1174.2, 1207.7, 1238, 1270.9, 1305.6], [149.6, 171, 194, 215], 18.5, 17)

# ======================= ROW B-E =======================
text(315.6, 282.6, "Sleep Analysis", 21)
text(1033.6, 270.7, "Sleep Homeostasis Analysis", 21)
for lab, x, y in [("B", 64.7, 297.8), ("C", 414.3, 300.4), ("D", 732.7, 295.5), ("E", 1079.4, 295.5)]:
    text(x, y, lab, 21, bold=True)

# --- B
BX = [-0.31, 47.4]
add_axes(1, 89.8, 353.3, 318.1, 515.2, BX, [0, 30], xcfg_line(BX, 23.5, "#b0b0b0"),
         ycfg([0, 5, 10, 15, 20, 25, 30], ["0", "5", "10", "15", "20", "25", "30"], 14, "#b0b0b0", 1))
lines(1, [("I", B_I), ("II", B_II), ("III", B_III), ("IV", B_IV), ("V", B_V), ("VI", B_VI)], 5, 1.5)
ldbar(1, BX, 23.5, 529.7, 536.2, True)
text(56.9, 415, "sleep duration (min)", 16, angle=-90)
legend(ROMAN, 369.7, 391.3, 393.4, [374.7, 394.1, 413.5, 432.8, 453.8, 473.2], 15, 4, 1.3)

# --- C
CX = [-0.72, 17.5]
add_axes(2, 456.2, 696.3, 325.2, 489.3, CX, [0, 830],
         xcfg_bar(list(range(18)), ROMAN * 3, 11.5, DARK, 1.3, 3),
         ycfg([0, 200, 400, 600, 800], ["0", "200", "400", "600", "800"], 12.5, DARK, 1.3, showline=False))
yline(2, 0, 800, DARK, 1.3)
grouped_bars(2, ROMAN, [C_NIGHT, C_DAY, C_WHOLE], [C_NIGHT_ERR, C_DAY_ERR, C_WHOLE_ERR], 0.75, 1.5, 3.5)
sig(2, C_SIG, "#555555", 1.2, 10.5)
text(420, 408.6, "sleep duration (min)", 16, angle=-90)
groups_under([(462.7, 534.3, 503.8, "Night"), (545.5, 617, 580.4, "Day"), (624.6, 694.7, 659.6, "WholeDay")],
             510.3, 517.5, 12)

# --- D
DX = [-0.05, 47.3]
DY = [-0.2, 1.0]
d_pos = PY(532.7) + (0 - DY[0]) / (DY[1] - DY[0]) * (PY(320.7) - PY(532.7))
add_axes(3, 755.5, 984.7, 320.7, 532.7, DX, DY,
         dict(anchor="free", position=d_pos, showline=True, linecolor="#9a9a9a", linewidth=1,
              tickvals=[23.5], ticks="outside", ticklen=5, tickcolor="#9a9a9a", showticklabels=False),
         ycfg([-0.2, 0, 0.2, 0.4, 0.6, 0.8, 1.0], ["-0.2", "0", "0.2", "0.4", "0.6", "0.8", "1"], 14, "#9a9a9a", 1))
lines(3, [("IV", D_IV), ("II", D_II), ("V", D_V), ("VI", D_VI), ("I", D_I), ("III", D_III)], 5.5, 1.5,
      errs={"I": D_I_ERR, "II": D_II_ERR, "III": D_III_ERR, "IV": D_IV_ERR, "V": D_V_ERR, "VI": D_VI_ERR}, ecap=2)
ldbar(3, DX, 23.5, 528.1, 537.8, False)
text(717.5, 418.3, "Recovery", 16.5, angle=-90)
legend(ROMAN, 1001.8, 1019.3, 1024.7, [375.6, 395.7, 415.7, 436, 455.4, 474.8], 14, 4, 1.3)

# --- E
EX = [-0.5, 5.48]
EY = [-0.5, 1.1]
e_pos = PY(492.7) + (0 - EY[0]) / (EY[1] - EY[0]) * (PY(324.8) - PY(492.7))
add_axes(4, 1094.8, 1329.4, 324.8, 492.7, EX, EY,
         dict(anchor="free", position=e_pos, showline=True, linecolor=DARK, linewidth=1.5,
              tickvals=list(range(6)), ticks="outside", ticklen=6, tickwidth=1.5, tickcolor=DARK, showticklabels=False),
         ycfg([-0.5, 0, 0.5, 1.0], ["-0.5", "0.0", "0.5", "1.0"], 15, DARK, 1.5, showline=False))
yline(4, -0.5, 1.0, DARK, 1.5)
single_bars(4, ROMAN, E_MEAN, E_ERR, 0.68, 2, 8)
sig(4, E_SIG, "#666666", 1.5, 15)
for g, name in enumerate(ROMAN):
    annos.append(dict(x=g, y=-0.5, xref=xn(4), yref=yn(4), text=name, showarrow=False, yanchor="middle",
                      font=dict(size=21, color=DARK, family=FONT)))
text(1056.5, 416.7, "Recovery", 16.5, angle=-90)

# ======================= PANEL F =======================
text(85.8, 584.6, "F", 21, bold=True)
text(643.3, 584.6, "Strategy of 5HT2b cDNA Rescue in All 5HT2b Neurons BUT NOT 23E10 neurons", 20.7)
text(91.4, 632, "I", 22, NUM["I"]); text(95, 633, ". 5HT2b mutant without rescue", 18, anchor="left")
text(391.5, 634.5, "II", 22, NUM["II"]); text(399.3, 635, ". Rescue in all 5HT2b neurons", 18, anchor="left")
text(672, 628, "III", 22, NUM["III"]); text(684, 632, ". Rescue in all 5HT2b neurons BUT NOT in", 14.5, anchor="left")
text(839, 650.8, "one pair of intersectional neurons of 23E10 and 5HT2b", 14.5)

rbox(204.7, 698.3, 337.9, 768.1, GRN_LINE, 4.5)
rbox(90.1, 658.9, 225.5, 730.6, PURP_LINE, 4.5)
text(161.4, 672.5, "5HT2b Neuron", 16.5, PURP_TXT, bold=True)
text(142, 697.7, "5HT2b", 17)
text(277.3, 723.5, "23E10-LexA", 17)
text(273, 748.7, "dFB Neurons", 17, GRN_TXT)

rbox(492.3, 696, 625.2, 767.1, GRN_LINE, 4.5)
rbox(375.6, 656.3, 512.7, 730.6, PURP_FILL, 0, PURP_FILL, r=12)
text(443.9, 671.2, "5HT2b Neuron", 16.5, "white", bold=True)
text(437.4, 692, "5HT2b<sup>GKO</sup>", 17, "white")
text(440.4, 715.4, "UAS-5HT2b", 17, "white")
text(563.8, 732.6, "LexAop-Gal80", 16)
text(559.4, 753.2, "dFB Neurons", 17, GRN_TXT)

rbox(669.6, 663.8, 802.3, 735.8, PURP_FILL, 0, PURP_FILL, r=12)
rbox(781.3, 702.5, 903.1, 769.4, GRN_LINE, 4.5, "white")
text(739, 678.3, "5HT2b Neuron", 16.5, "white", bold=True)
text(727, 699, "5HT2b<sup>GKO</sup>", 17, "white")
text(728, 720.3, "UAS-5HT2b", 17, "white")
text(840, 716.5, "23E10-LexA", 15.5)
text(843.4, 733.2, "LexAop-Gal80", 16)
text(846.4, 752, "dFBNeurons", 16, GRN_TXT, bold=True)

text(1266.6, 606, "Genoptype", 18)
for name, x in zip(ROMAN[:3], [1226.7, 1253.2, 1287.7]):
    text(x, 629.8, name, 21, NUM[name])
geno(F_GENO_LABELS, F_GENO, [1129, 1138.5, 1140.6, 1143.9, 1146.9], [657, 681.5, 707.4, 735.8, 760.7],
     [1229.8, 1260.8, 1292.2], [657, 681, 706, 739, 758], 20, 19)

# ======================= ROW G-J =======================
text(372.7, 810.7, "Sleep Analysis", 20)
text(1033, 810.7, "Sleep Homeostasis Analysis", 20)
for lab, x, y in [("G", 77.5, 839.5), ("H", 426.7, 842.4), ("I", 725.4, 846.9), ("J", 1095.3, 847.9)]:
    text(x, y, lab, 21, bold=True)

# --- G
GX = [-0.4, 47.4]
add_axes(5, 105.8, 361, 855, 1024.5, GX, [0, 25], xcfg_line(GX, 23.5, "#b0b0b0"),
         ycfg([0, 5, 10, 15, 20, 25], ["0", "5", "10", "15", "20", "25"], 13.5, "#b0b0b0", 1))
lines(5, [("I", G_I), ("II", G_II), ("III", G_III)], 3.5, 1.3)
ldbar(5, GX, 23.5, 1029.7, 1035.6, True)
text(75, 940, "sleep duration (min)", 17, angle=-90)
legend(ROMAN[:3], 382.6, 397.8, 401.2, [855.3, 873.7, 892.1], 12, 3, 1.2)

# --- H
HX = [-0.52, 8.55]
add_axes(6, 471.3, 698.5, 854.4, 1011, HX, [0, 830],
         xcfg_bar(list(range(9)), ROMAN[:3] * 3, 12, DARK, 2, 3),
         ycfg([0, 200, 400, 600, 800], ["0", "200", "400", "600", "800"], 12.5, DARK, 2, showline=False))
yline(6, 0, 800, DARK, 2)
grouped_bars(6, ROMAN[:3], [H_NIGHT, H_DAY, H_WHOLE], [H_NIGHT_ERR, H_DAY_ERR, H_WHOLE_ERR], 0.7, 2, 5.5)
sig(6, H_SIG, DARK, 2, 11)
text(430.2, 936.7, "sleep duration (min)", 17, angle=-90)
groups_under([(480.4, 541.8, 512.4, "Night"), (553.9, 615.3, 580.3, "Day"), (628.4, 691.1, 661.7, "WholeDay")],
             1034.2, 1043, 15, lw=2)

# --- I
IX = [-0.35, 47.44]
add_axes(7, 774.3, 997.5, 855, 1024.5, IX, [0, 0.8], xcfg_line(IX, 23.5, "#a8a8a8"),
         ycfg([0, 0.2, 0.4, 0.6, 0.8], ["0", "0.2", "0.4", "0.6", "0.8"], 14.5, "#a8a8a8", 1))
lines(7, [("I", I_I), ("III", I_III), ("II", I_II)], 4, 1.3,
      errs={"I": I_I_ERR, "II": I_II_ERR, "III": I_III_ERR}, ecap=2)
ldbar(7, IX, 23.5, 1031.3, 1037.5, False)
text(733.5, 936.7, "Recovery", 17, angle=-90)
legend(ROMAN[:3], 1021.9, 1036.2, 1039.4, [855.3, 877, 897.3], 13, 3, 1.2)

# --- J
JX = [-0.64, 2.375]
add_axes(8, 1122.7, 1319.7, 872.1, 1002.3, JX, [0, 0.8],
         xcfg_bar([0, 1, 2], ROMAN[:3], 14, DARK, 2, 6),
         ycfg([0, 0.2, 0.4, 0.6, 0.8], ["0.0", "0.2", "0.4", "0.6", "0.8"], 13, DARK, 2))
single_bars(8, ROMAN[:3], J_MEAN, J_ERR, 0.64, 2.5, 11)
sig(8, J_SIG, DARK, 1.8, 10)
text(1089, 927, "Recovery", 17, angle=-90)

# ======================= PANEL K =======================
text(77.1, 1098.2, "K", 21, bold=True)
text(701.5, 1096, "Strategy of 5HT2b Knockdown in 23E10 neurons and in All 5HT2b Neurons BUT NOT 23E10 neurons", 20.7)
text(80.1, 1140, "I", 20, NUM["I"]); text(82.7, 1141.1, ". Control 1 for Knockdown", 13.3, anchor="left")
text(275, 1140, "II", 20, NUM["II"]); text(281.3, 1141.1, ". Knockdown in 23E10 neurons", 13.3, anchor="left")
text(482.6, 1139.5, "III", 20, NUM["III"]); text(499.7, 1141.1, ". Control 2 for Knockdown", 13.3, anchor="left")
text(687, 1139.5, "IV", 20, NUM["IV"]); text(699, 1141.1, ". Control 3 for Knockdown", 13.3, anchor="left")
text(856, 1137, "V.", 20, NUM["V"], anchor="left")
text(955.7, 1138.6, "Knockdown in 5HT2b", 13.3)
text(968, 1153.1, "BUT NOT in 23E10 Neurons", 13.3)

rbox(159.3, 1193.5, 263.1, 1252.2, GRN_LINE, 4.5)
rbox(70.6, 1163.8, 174.4, 1219.9, PURP_LINE, 4.5)
text(122.5, 1176.7, "5HT2b Neuron", 13, PURP_TXT)
text(214.2, 1216.1, "23E10-Gal4", 13.5)
text(212.5, 1233.8, "dFB Neurons", 13.5, GRN_TXT)

rbox(356.1, 1193.5, 462, 1250, GRN_FILL, 0, GRN_FILL, r=10)
rbox(267.4, 1162.8, 373.4, 1219.9, PURP_LINE, 4.5)
text(321.5, 1174.7, "5HT2b Neuron", 13, PURP_TXT)
text(412.3, 1205.7, "23E10-Gal4", 13.5, "white")
text(413.2, 1224.2, "UAS-5HT2b-RNAi", 10, "white")
text(411.4, 1238.1, "dFB Neurons", 13.5, "white")

rbox(558.5, 1198.3, 661.1, 1252.2, GRN_LINE, 4.5)
rbox(468.5, 1167.6, 573.2, 1224.2, PURP_LINE, 4.5)
text(522.6, 1182.2, "5HT2b Neuron", 13, PURP_TXT)
text(516.2, 1196, "5HT2b::Gal4", 13.5)
text(613.5, 1220, "23E10-LexA", 13.5)
text(611.3, 1238.1, "dFB Neurons", 13.5, GRN_TXT)

rbox(755.2, 1191.9, 859.6, 1246.8, GRN_LINE, 4.5)
rbox(667.5, 1161.2, 773.3, 1218.7, PURP_LINE, 4.5)
text(719.7, 1175, "5HT2b Neuron", 13, PURP_TXT)
text(715, 1189, "UAS-", 10.5)
text(716, 1202, "5HT2b-RNAi", 10.5)
text(813.4, 1217.7, "LexAop-Gal80", 13.5, family=SERIF)
text(810.3, 1230.6, "dFB Neurons", 13.5, GRN_TXT)

rbox(868.9, 1165, 976.1, 1222.6, PURP_FILL, 0, PURP_FILL, r=10)
rbox(958, 1195.1, 1062.5, 1250, GRN_LINE, 4.5, "white")
text(921.1, 1176.4, "5HT2b Neuron", 13.5, "white")
text(919.9, 1190.9, "5HT2b::Gal4", 13.5, "white")
text(918, 1203.2, "UAS-", 10, "white")
text(918, 1216.1, "5HT2b-RNAi", 10, "white")
text(1008.3, 1208, "23E10-LexA", 12.5)
text(1009.5, 1221.9, "LexAop-Gal80", 13)
text(1011.5, 1238.1, "dFB Neurons", 13, GRN_TXT, bold=True)

text(1265.3, 1118.5, "Genoptype", 16)
for name, x in zip(ROMAN[:5], [1201.8, 1221.9, 1249.2, 1283.4, 1309.5]):
    text(x, 1138.6, name, 18, NUM[name])
geno(K_GENO_LABELS, K_GENO, [1130.7, 1139.6, 1135.9, 1135.6, 1140.8], [1158.6, 1177.3, 1199.3, 1221, 1238.1],
     [1200, 1222, 1251.3, 1285, 1309.5], [1158.6, 1177.3, 1199.3, 1222, 1238.1], 16, 16)

# ======================= ROW L-O =======================
text(358.8, 1287.1, "Sleep Analysis", 21)
text(1031.1, 1287.1, "Sleep Homeostasis Analysis", 21)
for lab, x, y in [("L", 74.2, 1317.2), ("M", 411.6, 1317.2), ("N", 730.1, 1323.6), ("O", 1097.2, 1323.6)]:
    text(x, y, lab, 21, bold=True)

# --- L
LX = [-0.2, 47.56]
add_axes(9, 112.3, 332.1, 1318.5, 1502, LX, [0, 30], xcfg_line(LX, 23.5, "#b0b0b0"),
         ycfg([0, 5, 10, 15, 20, 25, 30], ["0", "5", "10", "15", "20", "25", "30"], 13, "#b0b0b0", 1))
lines(9, [("II", L_II), ("III", L_III), ("V", L_V), ("IV", L_IV), ("I", L_I)], 5, 1.5)
ldbar(9, LX, 23.5, 1507.8, 1513.6, True)
text(79.9, 1413.1, "sleep duration (min)", 18, angle=-90)
legend(ROMAN[:5], 346.7, 367.5, 374, [1377, 1398.6, 1418, 1437.3, 1457.4], 20, 4, 1.5, colored=True)

# --- M
MX = [-0.58, 14.5]
add_axes(10, 445.3, 691.9, 1332.1, 1499.7, MX, [0, 820],
         xcfg_bar(list(range(15)), ROMAN[:5] * 3, 12, DARK, 1.5, 3),
         ycfg([0, 200, 400, 600, 800], ["0", "200", "400", "600", "800"], 13, DARK, 1.5, showline=False))
yline(10, 0, 800, DARK, 1.5)
grouped_bars(10, ROMAN[:5], [M_NIGHT, M_DAY, M_WHOLE], [M_NIGHT_ERR, M_DAY_ERR, M_WHOLE_ERR], 0.74, 2, 5)
sig(10, M_SIG, DARK, 1.5, 11)
text(408.6, 1411.5, "sleep duration (min)", 18, angle=-90)
groups_under([(443.2, 526.6, 488.7, "Night"), (534.9, 608, 570, "Day"), (612.8, 690.6, 653, "WholeDay")],
             1518.1, 1527.5, 13.5)

# --- N
NX = [-0.26, 47.26]
add_axes(11, 782.3, 1005.8, 1309.1, 1509.1, NX, [0, 1.0], xcfg_line(NX, 23.5, "#a8a8a8"),
         ycfg([0, 0.2, 0.4, 0.6, 0.8, 1.0], ["0", "0.2", "0.4", "0.6", "0.8", "1"], 14.5, "#a8a8a8", 1))
lines(11, [("II", N_II), ("IV", N_IV), ("III", N_III), ("I", N_I), ("V", N_V)], 5.5, 1.5,
      errs={"I": N_I_ERR, "II": N_II_ERR, "III": N_III_ERR, "IV": N_IV_ERR, "V": N_V_ERR}, ecap=2)
ldbar(11, NX, 23.5, 1516.5, 1522, False)
text(745.6, 1406.7, "Recovery", 17, angle=-90)
legend(ROMAN[:5], 1025, 1047.4, 1053.5, [1377, 1397, 1417.3, 1437.3, 1457.4], 20, 4.5, 1.5, colored=True)

# --- O
OX = [-0.5, 4.5]
add_axes(12, 1127, 1328.9, 1371.5, 1505.2, OX, [0, 1.0],
         xcfg_bar([0, 1, 2, 3, 4], ROMAN[:5], 17, DARK, 2, 5),
         ycfg([0, 0.2, 0.4, 0.6, 0.8, 1.0], ["0.0", "0.2", "0.4", "0.6", "0.8", "1.0"], 13, DARK, 2))
single_bars(12, ROMAN[:5], O_MEAN, O_ERR, 0.69, 2, 7.5)
sig(12, O_SIG, "#555555", 1.5, 14)
text(1090.2, 1434.1, "Recovery", 17, angle=-90)

layout["shapes"] = shapes
layout["annotations"] = annos
fig.update_layout(**layout)

PAGE_FIX = ("document.documentElement.style.margin='0';document.documentElement.style.padding='0';"
            "document.documentElement.style.overflow='hidden';"
            "document.body.style.margin='0';document.body.style.padding='0';document.body.style.overflow='hidden';")
fig.write_html("out.html", post_script=PAGE_FIX, config={"displayModeBar": False, "responsive": False})
